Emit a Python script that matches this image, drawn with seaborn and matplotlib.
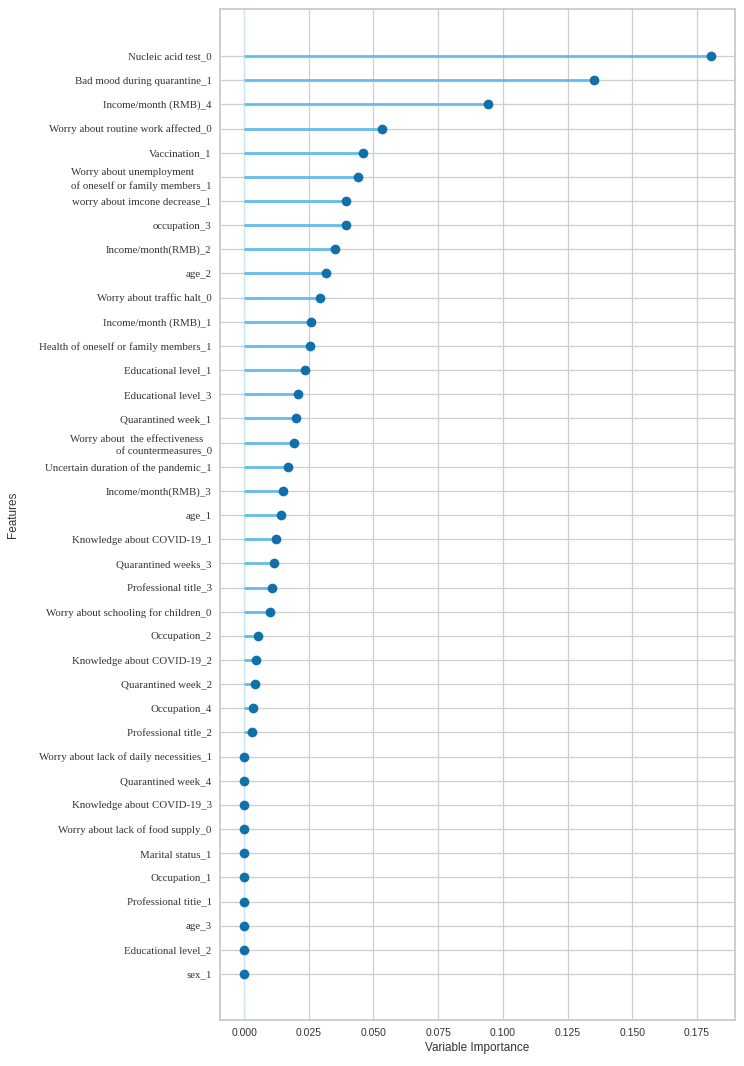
import matplotlib
matplotlib.use("Agg")
import matplotlib.pyplot as plt
import seaborn as sns
import pandas as pd

# Variables y su importancia
features = [
    "Nucleic acid test_0",
    "Bad mood during quarantine_1",
    "Income/month (RMB)_4",
    "Worry about routine work affected_0",
    "Vaccination_1",
    "Worry about unemployment\nof oneself or family members_1",
    "worry about imcone decrease_1",
    "occupation_3",
    "Income/month(RMB)_2",
    "age_2",
    "Worry about traffic halt_0",
    "Income/month (RMB)_1",
    "Health of oneself or family members_1",
    "Educational level_1",
    "Educational level_3",
    "Quarantined week_1",
    "Worry about  the effectiveness   \nof countermeasures_0",
    "Uncertain duration of the pandemic_1",
    "Income/month(RMB)_3",
    "age_1",
    "Knowledge about COVID-19_1",
    "Quarantined weeks_3",
    "Professional title_3",
    "Worry about schooling for children_0",
    "Occupation_2",
    "Knowledge about COVID-19_2",
    "Quarantined week_2",
    "Occupation_4",
    "Professional title_2",
    "Worry about lack of daily necessities_1",
    "Quarantined week_4",
    "Knowledge about COVID-19_3",
    "Worry about lack of food supply_0",
    "Marital status_1",
    "Occupation_1",
    "Professional titie_1",
    "age_3",
    "Educational level_2",
    "sex_1",
]
importance = [
    0.1804, 0.1351, 0.0942, 0.0533, 0.0459, 0.0442, 0.0394, 0.0392, 0.0353,
    0.0318, 0.0295, 0.0260, 0.0254, 0.0237, 0.0210, 0.0202, 0.0192, 0.0171,
    0.0151, 0.0142, 0.0125, 0.0116, 0.0107, 0.0100, 0.0054, 0.0045, 0.0041,
    0.0036, 0.0030, 0.0, 0.0, 0.0, 0.0, 0.0, 0.0, 0.0, 0.0, 0.0, 0.0,
]
x_ticks = [0.000, 0.025, 0.050, 0.075, 0.100, 0.125, 0.150, 0.175]

df = pd.DataFrame({"Features": features, "Variable Importance": importance})

sns.set_theme(style="whitegrid")
plt.rcParams["axes.edgecolor"] = "#c8c8c8"
plt.rcParams["grid.color"] = "#cfcfcf"

fig = plt.figure(figsize=(7.44, 10.66), dpi=100)
ax = fig.add_axes([0.2957, 0.0432, 0.6923, 0.9484])

# Tallos del lollipop
n = len(features)
ax.hlines(y=range(n), xmin=0, xmax=df["Variable Importance"],
          color="#63bdea", linewidth=2, zorder=2)
ax.axvline(0, color="#cfe8f6", linewidth=1, zorder=1)

sns.stripplot(data=df, x="Variable Importance", y="Features", orient="h",
              jitter=False, size=7, color="#1170aa", zorder=3, ax=ax)

ax.set_xlim(-0.0093, 0.1897)
ax.set_ylim(n - 1 + 1.9, -1.95)
ax.set_xticks(x_ticks)
ax.set_xticklabels([f"{t:.3f}" for t in x_ticks], fontsize=7.5,
                   family="Liberation Sans", color="#333333")
ax.set_yticks(range(n))
ax.set_yticklabels(features, fontsize=7.8, family="Liberation Serif",
                   color="#333333")
for lab in ax.get_yticklabels():
    lab.set_linespacing(1.45)
    if "unemployment" in lab.get_text():
        lab.set_multialignment("left")
    else:
        lab.set_multialignment("right")
ax.tick_params(axis="both", length=0, pad=6)
ax.grid(True, axis="both", linewidth=0.9)

ax.set_xlabel("Variable Importance", fontsize=8.5, family="Liberation Sans",
              color="#333333", labelpad=3)
ax.set_ylabel("Features", fontsize=8.5, family="Liberation Sans",
              color="#333333", labelpad=14)

fig.savefig("out.png", dpi=100)
